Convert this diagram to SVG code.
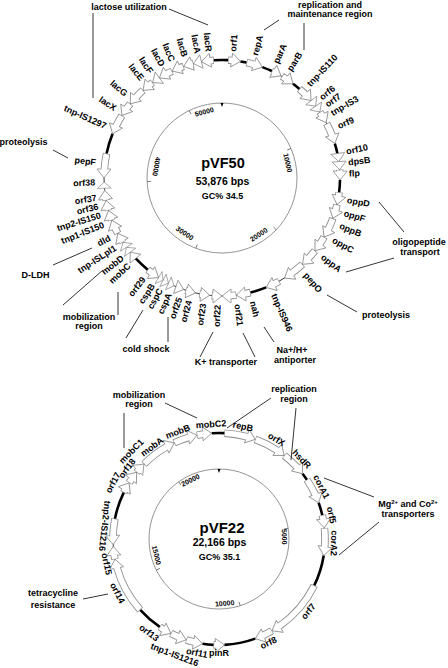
<svg xmlns="http://www.w3.org/2000/svg" width="448" height="668" viewBox="0 0 448 668">
<style>
text{font-family:"Liberation Sans",Arial,sans-serif;font-weight:bold;fill:#000}
.l{font-size:9px}
.e{text-anchor:end}
.m{text-anchor:middle}
.s{font-size:7px;text-anchor:middle}
.b{fill:none;stroke:#8a8a8a;stroke-width:7.5}
.w{fill:none;stroke:#fff;stroke-width:5.8}
.h{fill:#fff;stroke:#8a8a8a;stroke-width:0.8}
.k{fill:none;stroke:#000;stroke-width:2.6}
.ring{fill:none;stroke:#000;stroke-width:0.8}
.in{fill:none;stroke:#666;stroke-width:0.7}
.tk{stroke:#666;stroke-width:0.8}
.c line{stroke:#000;stroke-width:0.8}
</style>
<defs>
<circle id="A" cx="222" cy="178" r="118" pathLength="360" transform="rotate(-90 222 178)"/>
<circle id="B" cx="219" cy="539" r="106" pathLength="360" transform="rotate(-90 219 539)"/>
<polygon id="H" points="0,0 -9,-7 -9,7"/>
</defs>

<!-- ================= pVF50 ================= -->
<g id="pVF50-scale">
<circle class="in" cx="222" cy="178" r="75"/>
<polygon points="220.5,103 223.5,103 222,107" fill="#000"/>
<line class="tk" x1="222" y1="103" x2="222" y2="107" transform="rotate(66.8 222 178)"/>
<line class="tk" x1="222" y1="103" x2="222" y2="107" transform="rotate(133.6 222 178)"/>
<line class="tk" x1="222" y1="103" x2="222" y2="107" transform="rotate(200.4 222 178)"/>
<line class="tk" x1="222" y1="103" x2="222" y2="107" transform="rotate(267.2 222 178)"/>
<line class="tk" x1="222" y1="103" x2="222" y2="107" transform="rotate(334.1 222 178)"/>
<text class="s" transform="rotate(-15 222 178)" x="222" y="112">50000</text>
<text class="s" transform="rotate(77 222 178)" x="222" y="113">10000</text>
<text class="s" transform="rotate(-33 222 178)" x="222" y="248">20000</text>
<text class="s" transform="rotate(34 222 178)" x="222" y="247">30000</text>
<text class="s" transform="rotate(100 222 178)" x="222" y="247">40000</text>
<text x="223" y="167.5" style="font-size:14.5px;text-anchor:middle">pVF50</text>
<text x="222.5" y="184.5" style="font-size:10.5px;text-anchor:middle">53,876 bps</text>
<text x="222.5" y="199" style="font-size:9px;text-anchor:middle">GC% 34.5</text>
</g>

<g id="pVF50-backbone">
<use href="#A" class="ring"/>
<use href="#A" class="k" style="stroke-dasharray:3 353 4 400"/>
<use href="#A" class="k" style="stroke-dasharray:3 400;stroke-dashoffset:-9"/>
<use href="#A" class="k" style="stroke-dasharray:5 400;stroke-dashoffset:-20"/>
<use href="#A" class="k" style="stroke-dasharray:4 400;stroke-dashoffset:-37"/>
<use href="#A" class="k" style="stroke-dasharray:5 400;stroke-dashoffset:-73"/>
<use href="#A" class="k" style="stroke-dasharray:6 400;stroke-dashoffset:-91"/>
<use href="#A" class="k" style="stroke-dasharray:8 400;stroke-dashoffset:-158"/>
<use href="#A" class="k" style="stroke-dasharray:8 400;stroke-dashoffset:-219"/>
<use href="#A" class="k" style="stroke-dasharray:10 400;stroke-dashoffset:-282"/>
</g>

<g id="pVF50-genes">
<g id="lacR"><use href="#A" class="b" style="stroke-dasharray:1.6 400;stroke-dashoffset:-354.4"/><use href="#H" class="h" transform="rotate(350 222 178) translate(222 60) scale(-1 1)"/><use href="#A" class="w" style="stroke-dasharray:1.8 400;stroke-dashoffset:-353.9"/><text class="l e" transform="rotate(84 222 178)" x="95" y="181">lacR</text></g>
<g id="orf1"><use href="#A" class="b" style="stroke-dasharray:1.6 400;stroke-dashoffset:-3"/><use href="#H" class="h" transform="rotate(9 222 178) translate(222 60)"/><use href="#A" class="w" style="stroke-dasharray:1.8 400;stroke-dashoffset:-3.3"/><text class="l" transform="rotate(-85 222 178)" x="349" y="181">orf1</text></g>
<g id="repA"><use href="#A" class="b" style="stroke-dasharray:3.6 400;stroke-dashoffset:-12"/><use href="#H" class="h" transform="rotate(20 222 178) translate(222 60)"/><use href="#A" class="w" style="stroke-dasharray:3.8 400;stroke-dashoffset:-12.3"/><text class="l" transform="rotate(-75 222 178)" x="349" y="181">repA</text></g>
<g id="parA"><use href="#A" class="b" style="stroke-dasharray:0.6 400;stroke-dashoffset:-25"/><use href="#H" class="h" transform="rotate(30 222 178) translate(222 60)"/><use href="#A" class="w" style="stroke-dasharray:0.8 400;stroke-dashoffset:-25.3"/><text class="l" transform="rotate(-65 222 178)" x="349" y="181">parA</text></g>
<g id="parB"><use href="#A" class="b" style="stroke-dasharray:2.1 400;stroke-dashoffset:-30.5"/><use href="#H" class="h" transform="rotate(37 222 178) translate(222 60)"/><use href="#A" class="w" style="stroke-dasharray:2.3 400;stroke-dashoffset:-30.8"/><text class="l" transform="rotate(-58 222 178)" x="349" y="181">parB</text></g>
<g id="tnp-IS110"><use href="#A" class="b" style="stroke-dasharray:3.6 400;stroke-dashoffset:-41"/><use href="#H" class="h" transform="rotate(49 222 178) translate(222 60)"/><use href="#A" class="w" style="stroke-dasharray:3.8 400;stroke-dashoffset:-41.3"/><text class="l" transform="rotate(-47 222 178)" x="349" y="181">tnp-IS110</text></g>
<g id="orf6"><use href="#H" class="h" transform="rotate(52.5 222 178) translate(222 60) scale(0.8 1)"/><text class="l" transform="rotate(-39 222 178)" x="349" y="181">orf6</text></g>
<g id="orf7"><use href="#H" class="h" transform="rotate(56 222 178) translate(222 60) scale(0.8 1)"/><text class="l" transform="rotate(-35 222 178)" x="349" y="181">orf7</text></g>
<g id="tnp-IS3"><use href="#A" class="b" style="stroke-dasharray:1.6 400;stroke-dashoffset:-56"/><use href="#H" class="h" transform="rotate(62 222 178) translate(222 60)"/><use href="#A" class="w" style="stroke-dasharray:1.8 400;stroke-dashoffset:-56.3"/><text class="l" transform="rotate(-30.5 222 178)" x="349" y="181">tnp-IS3</text></g>
<g id="orf9"><use href="#A" class="b" style="stroke-dasharray:6.1 400;stroke-dashoffset:-62.5"/><use href="#H" class="h" transform="rotate(73 222 178) translate(222 60)"/><use href="#A" class="w" style="stroke-dasharray:6.3 400;stroke-dashoffset:-62.8"/><text class="l" transform="rotate(-24 222 178)" x="349" y="181">orf9</text></g>
<g id="orf10"><use href="#H" class="h" transform="rotate(82 222 178) translate(222 60) scale(0.91 1)"/><text class="l" transform="rotate(-12 222 178)" x="349" y="181">orf10</text></g>
<g id="dpsB"><use href="#H" class="h" transform="rotate(86 222 178) translate(222 60) scale(0.91 1)"/><text class="l" transform="rotate(-7 222 178)" x="349" y="181">dpsB</text></g>
<g id="flp"><use href="#A" class="b" style="stroke-dasharray:0.6 400;stroke-dashoffset:-86"/><use href="#H" class="h" transform="rotate(91 222 178) translate(222 60)"/><use href="#A" class="w" style="stroke-dasharray:0.8 400;stroke-dashoffset:-86.3"/><text class="l" transform="rotate(-2 222 178)" x="349" y="181">flp</text></g>
<g id="oppD"><use href="#A" class="b" style="stroke-dasharray:1.6 400;stroke-dashoffset:-97"/><use href="#H" class="h" transform="rotate(103 222 178) translate(222 60)"/><use href="#A" class="w" style="stroke-dasharray:1.8 400;stroke-dashoffset:-97.3"/><text class="l" transform="rotate(10 222 178)" x="349" y="181">oppD</text></g>
<g id="oppF"><use href="#A" class="b" style="stroke-dasharray:2.6 400;stroke-dashoffset:-103"/><use href="#H" class="h" transform="rotate(110 222 178) translate(222 60)"/><use href="#A" class="w" style="stroke-dasharray:2.8 400;stroke-dashoffset:-103.3"/><text class="l" transform="rotate(16 222 178)" x="349" y="181">oppF</text></g>
<g id="oppB"><use href="#A" class="b" style="stroke-dasharray:5.6 400;stroke-dashoffset:-110"/><use href="#H" class="h" transform="rotate(120 222 178) translate(222 60)"/><use href="#A" class="w" style="stroke-dasharray:5.8 400;stroke-dashoffset:-110.3"/><text class="l" transform="rotate(22 222 178)" x="349" y="181">oppB</text></g>
<g id="oppC"><use href="#A" class="b" style="stroke-dasharray:3.6 400;stroke-dashoffset:-120"/><use href="#H" class="h" transform="rotate(128 222 178) translate(222 60)"/><use href="#A" class="w" style="stroke-dasharray:3.8 400;stroke-dashoffset:-120.3"/><text class="l" transform="rotate(29 222 178)" x="349" y="181">oppC</text></g>
<g id="oppA"><use href="#A" class="b" style="stroke-dasharray:4.6 400;stroke-dashoffset:-128"/><use href="#H" class="h" transform="rotate(137 222 178) translate(222 60)"/><use href="#A" class="w" style="stroke-dasharray:4.8 400;stroke-dashoffset:-128.3"/><text class="l" transform="rotate(38 222 178)" x="349" y="181">oppA</text></g>
<g id="pepO"><use href="#A" class="b" style="stroke-dasharray:6.6 400;stroke-dashoffset:-137"/><use href="#H" class="h" transform="rotate(148 222 178) translate(222 60)"/><use href="#A" class="w" style="stroke-dasharray:6.8 400;stroke-dashoffset:-137.3"/><text class="l" transform="rotate(49 222 178)" x="349" y="181">pepO</text></g>
<g id="tnp-IS946"><use href="#A" class="b" style="stroke-dasharray:2.6 400;stroke-dashoffset:-151"/><use href="#H" class="h" transform="rotate(158 222 178) translate(222 60)"/><use href="#A" class="w" style="stroke-dasharray:2.8 400;stroke-dashoffset:-151.3"/><text class="l" transform="rotate(66 222 178)" x="349" y="181">tnp-IS946</text></g>
<g id="nah"><use href="#A" class="b" style="stroke-dasharray:2.6 400;stroke-dashoffset:-166"/><use href="#H" class="h" transform="rotate(173 222 178) translate(222 60)"/><use href="#A" class="w" style="stroke-dasharray:2.8 400;stroke-dashoffset:-166.3"/><text class="l" transform="rotate(76 222 178)" x="349" y="181">nah</text></g>
<g id="orf21"><use href="#A" class="b" style="stroke-dasharray:2.6 400;stroke-dashoffset:-173"/><use href="#H" class="h" transform="rotate(180 222 178) translate(222 60)"/><use href="#A" class="w" style="stroke-dasharray:2.8 400;stroke-dashoffset:-173.3"/><text class="l" transform="rotate(83 222 178)" x="349" y="181">orf21</text></g>
<g id="orf22"><use href="#A" class="b" style="stroke-dasharray:0.6 400;stroke-dashoffset:-184.4"/><use href="#H" class="h" transform="rotate(180 222 178) translate(222 60) scale(-1 1)"/><use href="#A" class="w" style="stroke-dasharray:0.8 400;stroke-dashoffset:-183.9"/><text class="l e" transform="rotate(-88 222 178)" x="95" y="181">orf22</text></g>
<g id="orf23"><use href="#A" class="b" style="stroke-dasharray:0.6 400;stroke-dashoffset:-190.4"/><use href="#H" class="h" transform="rotate(186 222 178) translate(222 60) scale(-1 1)"/><use href="#A" class="w" style="stroke-dasharray:0.8 400;stroke-dashoffset:-189.9"/><text class="l e" transform="rotate(-81.5 222 178)" x="95" y="181">orf23</text></g>
<g id="orf24"><use href="#A" class="b" style="stroke-dasharray:0.6 400;stroke-dashoffset:-197.4"/><use href="#H" class="h" transform="rotate(193 222 178) translate(222 60) scale(-1 1)"/><use href="#A" class="w" style="stroke-dasharray:0.8 400;stroke-dashoffset:-196.9"/><text class="l e" transform="rotate(-75 222 178)" x="95" y="181">orf24</text></g>
<g id="orf25"><use href="#H" class="h" transform="rotate(199 222 178) translate(222 60) scale(-0.91 1)"/><text class="l e" transform="rotate(-70.5 222 178)" x="95" y="181">orf25</text></g>
<g id="cspA"><use href="#H" class="h" transform="rotate(204 222 178) translate(222 60) scale(-0.68 1)"/><text class="l e" transform="rotate(-65.5 222 178)" x="95" y="181">cspA</text></g>
<g id="cspC"><use href="#H" class="h" transform="rotate(207 222 178) translate(222 60) scale(-0.68 1)"/><text class="l e" transform="rotate(-61 222 178)" x="95" y="181">cspC</text></g>
<g id="cspB"><use href="#H" class="h" transform="rotate(210 222 178) translate(222 60) scale(-0.57 1)"/><text class="l e" transform="rotate(-57 222 178)" x="95" y="181">cspB</text></g>
<g id="orf29"><use href="#A" class="b" style="stroke-dasharray:2.1 400;stroke-dashoffset:-216.9"/><use href="#H" class="h" transform="rotate(212.5 222 178) translate(222 60) scale(-1 1)"/><use href="#A" class="w" style="stroke-dasharray:2.3 400;stroke-dashoffset:-216.4"/><text class="l e" transform="rotate(-52 222 178)" x="95" y="181">orf29</text></g>
<g id="mobC"><use href="#H" class="h" transform="rotate(231 222 178) translate(222 60) scale(0.91 1)"/><text class="l e" transform="rotate(-43 222 178)" x="95" y="181">mobC</text></g>
<g id="mobD"><use href="#H" class="h" transform="rotate(234 222 178) translate(222 60) scale(0.68 1)"/><text class="l e" transform="rotate(-38.5 222 178)" x="95" y="181">mobD</text></g>
<g id="tnp-ISLpl1"><use href="#H" class="h" transform="rotate(237 222 178) translate(222 60) scale(0.68 1)"/><text class="l e" transform="rotate(-33 222 178)" x="95" y="181">tnp-ISLpl1</text></g>
<g id="dld"><use href="#A" class="b" style="stroke-dasharray:0.6 400;stroke-dashoffset:-237"/><use href="#H" class="h" transform="rotate(242 222 178) translate(222 60)"/><use href="#A" class="w" style="stroke-dasharray:0.8 400;stroke-dashoffset:-237.3"/><text class="l e" transform="rotate(-28 222 178)" x="95" y="181">dld</text></g>
<g id="tnp1-IS150"><use href="#A" class="b" style="stroke-dasharray:2.6 400;stroke-dashoffset:-242"/><use href="#H" class="h" transform="rotate(249 222 178) translate(222 60)"/><use href="#A" class="w" style="stroke-dasharray:2.8 400;stroke-dashoffset:-242.3"/><text class="l e" transform="rotate(-21.5 222 178)" x="95" y="181">tnp1-IS150</text></g>
<g id="tnp2-IS150"><use href="#A" class="b" style="stroke-dasharray:0.6 400;stroke-dashoffset:-249"/><use href="#H" class="h" transform="rotate(254 222 178) translate(222 60)"/><use href="#A" class="w" style="stroke-dasharray:0.8 400;stroke-dashoffset:-249.3"/><text class="l e" transform="rotate(-17 222 178)" x="95" y="181">tnp2-IS150</text></g>
<g id="orf36"><use href="#A" class="b" style="stroke-dasharray:0.6 400;stroke-dashoffset:-254"/><use href="#H" class="h" transform="rotate(259 222 178) translate(222 60)"/><use href="#A" class="w" style="stroke-dasharray:0.8 400;stroke-dashoffset:-254.3"/><text class="l e" transform="rotate(-13 222 178)" x="95" y="181">orf36</text></g>
<g id="orf37"><use href="#A" class="b" style="stroke-dasharray:0.6 400;stroke-dashoffset:-259"/><use href="#H" class="h" transform="rotate(264 222 178) translate(222 60)"/><use href="#A" class="w" style="stroke-dasharray:0.8 400;stroke-dashoffset:-259.3"/><text class="l e" transform="rotate(-9 222 178)" x="95" y="181">orf37</text></g>
<g id="orf38"><use href="#H" class="h" transform="rotate(268 222 178) translate(222 60) scale(0.68 1)"/><text class="l e" transform="rotate(-2 222 178)" x="95" y="181">orf38</text></g>
<g id="pepF"><use href="#A" class="b" style="stroke-dasharray:7.6 400;stroke-dashoffset:-274.4"/><use href="#H" class="h" transform="rotate(270 222 178) translate(222 60) scale(-1 1)"/><use href="#A" class="w" style="stroke-dasharray:7.8 400;stroke-dashoffset:-273.9"/><text class="l e" transform="rotate(7 222 178)" x="95" y="181">pepF</text></g>
<g id="tnp-IS1297"><use href="#A" class="b" style="stroke-dasharray:5.6 400;stroke-dashoffset:-296.4"/><use href="#H" class="h" transform="rotate(292 222 178) translate(222 60) scale(-1 1)"/><use href="#A" class="w" style="stroke-dasharray:5.8 400;stroke-dashoffset:-295.9"/><text class="l e" transform="rotate(24 222 178)" x="95" y="181">tnp-IS1297</text></g>
<g id="lacX"><use href="#A" class="b" style="stroke-dasharray:2.6 400;stroke-dashoffset:-306.4"/><use href="#H" class="h" transform="rotate(302 222 178) translate(222 60) scale(-1 1)"/><use href="#A" class="w" style="stroke-dasharray:2.8 400;stroke-dashoffset:-305.9"/><text class="l e" transform="rotate(33 222 178)" x="95" y="181">lacX</text></g>
<g id="lacG"><use href="#A" class="b" style="stroke-dasharray:4.6 400;stroke-dashoffset:-313.4"/><use href="#H" class="h" transform="rotate(309 222 178) translate(222 60) scale(-1 1)"/><use href="#A" class="w" style="stroke-dasharray:4.8 400;stroke-dashoffset:-312.9"/><text class="l e" transform="rotate(41 222 178)" x="95" y="181">lacG</text></g>
<g id="lacE"><use href="#A" class="b" style="stroke-dasharray:1.6 400;stroke-dashoffset:-322.4"/><use href="#H" class="h" transform="rotate(318 222 178) translate(222 60) scale(-1 1)"/><use href="#A" class="w" style="stroke-dasharray:1.8 400;stroke-dashoffset:-321.9"/><text class="l e" transform="rotate(51 222 178)" x="95" y="181">lacE</text></g>
<g id="lacF"><use href="#H" class="h" transform="rotate(324 222 178) translate(222 60) scale(-0.91 1)"/><text class="l e" transform="rotate(56 222 178)" x="95" y="181">lacF</text></g>
<g id="lacD"><use href="#A" class="b" style="stroke-dasharray:2.6 400;stroke-dashoffset:-332.4"/><use href="#H" class="h" transform="rotate(328 222 178) translate(222 60) scale(-1 1)"/><use href="#A" class="w" style="stroke-dasharray:2.8 400;stroke-dashoffset:-331.9"/><text class="l e" transform="rotate(62 222 178)" x="95" y="181">lacD</text></g>
<g id="lacC"><use href="#A" class="b" style="stroke-dasharray:1.6 400;stroke-dashoffset:-339.4"/><use href="#H" class="h" transform="rotate(335 222 178) translate(222 60) scale(-1 1)"/><use href="#A" class="w" style="stroke-dasharray:1.8 400;stroke-dashoffset:-338.9"/><text class="l e" transform="rotate(67 222 178)" x="95" y="181">lacC</text></g>
<g id="lacB"><use href="#A" class="b" style="stroke-dasharray:0.6 400;stroke-dashoffset:-345.4"/><use href="#H" class="h" transform="rotate(341 222 178) translate(222 60) scale(-1 1)"/><use href="#A" class="w" style="stroke-dasharray:0.8 400;stroke-dashoffset:-344.9"/><text class="l e" transform="rotate(73 222 178)" x="95" y="181">lacB</text></g>
<g id="lacA"><use href="#H" class="h" transform="rotate(346 222 178) translate(222 60) scale(-0.91 1)"/><text class="l e" transform="rotate(79 222 178)" x="95" y="181">lacA</text></g>
</g>

<g id="pVF50-callouts" class="c">
<g id="c-lac"><text class="l m" x="129" y="10">lactose utilization</text><line x1="169" y1="9" x2="208" y2="25"/><line x1="93" y1="13" x2="93" y2="98"/></g>
<g id="c-rep50"><text class="l m" x="330" y="7.5">replication and</text><text class="l m" x="330" y="16.5">maintenance region</text><line x1="279" y1="20" x2="264" y2="30"/><line x1="304" y1="23" x2="304" y2="50"/></g>
<g id="c-opp"><text class="l m" x="419" y="245">oligopeptide</text><text class="l m" x="420" y="255">transport</text><line x1="379" y1="202" x2="404" y2="232"/><line x1="346" y1="272" x2="394" y2="258"/></g>
<g id="c-prot-r"><text class="l m" x="386" y="318">proteolysis</text><line x1="327" y1="295" x2="357" y2="312"/></g>
<g id="c-nah"><text class="l m" x="292" y="353">Na+/H+</text><text class="l m" x="295" y="363">antiporter</text><line x1="264" y1="327" x2="274" y2="342"/></g>
<g id="c-k"><text class="l m" x="226" y="365">K+ transporter</text><line x1="213" y1="332" x2="200" y2="357"/><line x1="243" y1="333" x2="255" y2="357"/></g>
<g id="c-cold"><text class="l m" x="146" y="352">cold shock</text><line x1="143" y1="310" x2="126" y2="338"/><line x1="168" y1="317" x2="168" y2="342"/></g>
<g id="c-mob50"><text class="l m" x="89" y="320">mobilization</text><text class="l m" x="89" y="328.5">region</text><line x1="63" y1="305" x2="103" y2="270"/><line x1="118" y1="292" x2="118" y2="315"/></g>
<g id="c-ldh"><text class="l m" x="35.5" y="278">D-LDH</text><line x1="53" y1="265" x2="92" y2="248"/></g>
<g id="c-prot-l"><text class="l m" x="23.5" y="145">proteolysis</text><line x1="53" y1="150" x2="68" y2="158"/></g>
</g>

<!-- ================= pVF22 ================= -->
<g id="pVF22-scale">
<circle class="in" cx="219" cy="539" r="70"/>
<polygon points="217.5,469 220.5,469 219,473" fill="#000"/>
<line class="tk" x1="219" y1="469" x2="219" y2="473" transform="rotate(81.2 219 539)"/>
<line class="tk" x1="219" y1="469" x2="219" y2="473" transform="rotate(162.4 219 539)"/>
<line class="tk" x1="219" y1="469" x2="219" y2="473" transform="rotate(243.6 219 539)"/>
<line class="tk" x1="219" y1="469" x2="219" y2="473" transform="rotate(324.8 219 539)"/>
<text class="s" transform="rotate(88 219 539)" x="219" y="476">5000</text>
<text class="s" transform="rotate(-5 219 539)" x="219" y="606">10000</text>
<text class="s" transform="rotate(75.5 219 539)" x="219" y="606">15000</text>
<text class="s" transform="rotate(-26 219 539)" x="219" y="476">20000</text>
<text x="222" y="533" style="font-size:15px;text-anchor:middle">pVF22</text>
<text x="219.5" y="545.5" style="font-size:10.5px;text-anchor:middle">22,166 bps</text>
<text x="219.5" y="560" style="font-size:9px;text-anchor:middle">GC% 35.1</text>
</g>

<g id="pVF22-backbone">
<use href="#B" class="ring"/>
<use href="#B" class="k" style="stroke-dasharray:3 353 4 400"/>
<use href="#B" class="k" style="stroke-dasharray:4 400;stroke-dashoffset:-52"/>
<use href="#B" class="k" style="stroke-dasharray:7 400;stroke-dashoffset:-70"/>
<use href="#B" class="k" style="stroke-dasharray:17 400;stroke-dashoffset:-99"/>
<use href="#B" class="k" style="stroke-dasharray:17 400;stroke-dashoffset:-160"/>
<use href="#B" class="k" style="stroke-dasharray:6 400;stroke-dashoffset:-183"/>
<use href="#B" class="k" style="stroke-dasharray:14 400;stroke-dashoffset:-214"/>
<use href="#B" class="k" style="stroke-dasharray:15 400;stroke-dashoffset:-281"/>
</g>

<g id="pVF22-genes">
<g id="repB"><use href="#B" class="b" style="stroke-dasharray:12.1 400;stroke-dashoffset:-3"/><use href="#H" class="h" transform="rotate(20 219 539) translate(219 433)"/><use href="#B" class="w" style="stroke-dasharray:12.3 400;stroke-dashoffset:-3.3"/><text class="l m" transform="rotate(12 219 539)" x="219" y="427">repB</text></g>
<g id="orfX"><use href="#B" class="b" style="stroke-dasharray:13.1 400;stroke-dashoffset:-20"/><use href="#H" class="h" transform="rotate(38 219 539) translate(219 433)"/><use href="#B" class="w" style="stroke-dasharray:13.3 400;stroke-dashoffset:-20.3"/><text class="l m" transform="rotate(30 219 539)" x="219" y="427">orfX</text></g>
<g id="hsdR"><use href="#B" class="b" style="stroke-dasharray:9.1 400;stroke-dashoffset:-38"/><use href="#H" class="h" transform="rotate(52 219 539) translate(219 433)"/><use href="#B" class="w" style="stroke-dasharray:9.3 400;stroke-dashoffset:-38.3"/><text class="l m" transform="rotate(46 219 539)" x="219" y="427">hsdR</text></g>
<g id="corA1"><use href="#B" class="b" style="stroke-dasharray:9.1 400;stroke-dashoffset:-56"/><use href="#H" class="h" transform="rotate(70 219 539) translate(219 433)"/><use href="#B" class="w" style="stroke-dasharray:9.3 400;stroke-dashoffset:-56.3"/><text class="l m" transform="rotate(63 219 539)" x="219" y="427">corA1</text></g>
<g id="orf5"><use href="#B" class="b" style="stroke-dasharray:2.1 400;stroke-dashoffset:-77"/><use href="#H" class="h" transform="rotate(84 219 539) translate(219 433)"/><use href="#B" class="w" style="stroke-dasharray:2.3 400;stroke-dashoffset:-77.3"/><text class="l m" transform="rotate(78 219 539)" x="219" y="427">orf5</text></g>
<g id="corA2"><use href="#B" class="b" style="stroke-dasharray:10.1 400;stroke-dashoffset:-84"/><use href="#H" class="h" transform="rotate(99 219 539) translate(219 433)"/><use href="#B" class="w" style="stroke-dasharray:10.3 400;stroke-dashoffset:-84.3"/><text class="l m" transform="rotate(92 219 539)" x="219" y="427">corA2</text></g>
<g id="orf7b"><use href="#B" class="b" style="stroke-dasharray:29.1 400;stroke-dashoffset:-116"/><use href="#H" class="h" transform="rotate(150 219 539) translate(219 433)"/><use href="#B" class="w" style="stroke-dasharray:29.3 400;stroke-dashoffset:-116.3"/><text class="l m" transform="rotate(-51 219 539)" x="219" y="657">orf7</text></g>
<g id="orf8"><use href="#B" class="b" style="stroke-dasharray:5.1 400;stroke-dashoffset:-150"/><use href="#H" class="h" transform="rotate(160 219 539) translate(219 433)"/><use href="#B" class="w" style="stroke-dasharray:5.3 400;stroke-dashoffset:-150.3"/><text class="l m" transform="rotate(-25.5 219 539)" x="219" y="657">orf8</text></g>
<g id="pinR"><use href="#B" class="b" style="stroke-dasharray:1.1 400;stroke-dashoffset:-181.9"/><use href="#H" class="h" transform="rotate(177 219 539) translate(219 433) scale(-1 1)"/><use href="#B" class="w" style="stroke-dasharray:1.3 400;stroke-dashoffset:-181.4"/><text class="l m" x="219" y="656">pinR</text></g>
<g id="orf11"><use href="#B" class="b" style="stroke-dasharray:4.1 400;stroke-dashoffset:-193.9"/><use href="#H" class="h" transform="rotate(189 219 539) translate(219 433) scale(-1 1)"/><use href="#B" class="w" style="stroke-dasharray:4.3 400;stroke-dashoffset:-193.4"/><text class="l m" transform="rotate(11 219 539)" x="219" y="658">orf11</text></g>
<g id="tnp1-IS1216"><use href="#B" class="b" style="stroke-dasharray:4.1 400;stroke-dashoffset:-202.9"/><use href="#H" class="h" transform="rotate(198 219 539) translate(219 433) scale(-1 1)"/><use href="#B" class="w" style="stroke-dasharray:4.3 400;stroke-dashoffset:-202.4"/><text class="l m" transform="rotate(21 219 539)" x="219" y="666">tnp1-IS1216</text></g>
<g id="orf13"><use href="#B" class="b" style="stroke-dasharray:2.1 400;stroke-dashoffset:-211.9"/><use href="#H" class="h" transform="rotate(207 219 539) translate(219 433) scale(-1 1)"/><use href="#B" class="w" style="stroke-dasharray:2.3 400;stroke-dashoffset:-211.4"/><text class="l m" transform="rotate(36.7 219 539)" x="219" y="659">orf13</text></g>
<g id="orf14"><use href="#B" class="b" style="stroke-dasharray:26.1 400;stroke-dashoffset:-228"/><use href="#H" class="h" transform="rotate(259 219 539) translate(219 433)"/><use href="#B" class="w" style="stroke-dasharray:26.3 400;stroke-dashoffset:-228.3"/><text class="l m" transform="rotate(62 219 539)" x="219" y="657">orf14</text></g>
<g id="orf15"><use href="#B" class="b" style="stroke-dasharray:2.1 400;stroke-dashoffset:-259"/><use href="#H" class="h" transform="rotate(266 219 539) translate(219 433)"/><use href="#B" class="w" style="stroke-dasharray:2.3 400;stroke-dashoffset:-259.3"/><text class="l m" transform="rotate(77.5 219 539)" x="219" y="657">orf15</text></g>
<g id="tnp2-IS1216"><use href="#B" class="b" style="stroke-dasharray:9.1 400;stroke-dashoffset:-271.9"/><use href="#H" class="h" transform="rotate(267 219 539) translate(219 433) scale(-1 1)"/><use href="#B" class="w" style="stroke-dasharray:9.3 400;stroke-dashoffset:-271.4"/><text class="l m" transform="rotate(96.5 219 539)" x="219" y="657">tnp2-IS1216</text></g>
<g id="orf17"><use href="#B" class="b" style="stroke-dasharray:1.1 400;stroke-dashoffset:-296"/><use href="#H" class="h" transform="rotate(302 219 539) translate(219 433)"/><use href="#B" class="w" style="stroke-dasharray:1.3 400;stroke-dashoffset:-296.3"/><text class="l m" transform="rotate(-62 219 539)" x="219" y="422">orf17</text></g>
<g id="orf18"><use href="#B" class="b" style="stroke-dasharray:2.1 400;stroke-dashoffset:-302"/><use href="#H" class="h" transform="rotate(309 219 539) translate(219 433)"/><use href="#B" class="w" style="stroke-dasharray:2.3 400;stroke-dashoffset:-302.3"/><text class="l m" transform="rotate(-52.5 219 539)" x="219" y="426">orf18</text></g>
<g id="mobC1"><use href="#B" class="b" style="stroke-dasharray:1.1 400;stroke-dashoffset:-309"/><use href="#H" class="h" transform="rotate(315 219 539) translate(219 433)"/><use href="#B" class="w" style="stroke-dasharray:1.3 400;stroke-dashoffset:-309.3"/><text class="l m" transform="rotate(-45 219 539)" x="219" y="418">mobC1</text></g>
<g id="mobA"><use href="#B" class="b" style="stroke-dasharray:15.1 400;stroke-dashoffset:-315"/><use href="#H" class="h" transform="rotate(335 219 539) translate(219 433)"/><use href="#B" class="w" style="stroke-dasharray:15.3 400;stroke-dashoffset:-315.3"/><text class="l m" transform="rotate(-36 219 539)" x="219" y="428">mobA</text></g>
<g id="mobB"><use href="#B" class="b" style="stroke-dasharray:8.1 400;stroke-dashoffset:-335"/><use href="#H" class="h" transform="rotate(348 219 539) translate(219 433)"/><use href="#B" class="w" style="stroke-dasharray:8.3 400;stroke-dashoffset:-335.3"/><text class="l m" transform="rotate(-21 219 539)" x="219" y="427">mobB</text></g>
<g id="mobC2"><use href="#B" class="b" style="stroke-dasharray:3.1 400;stroke-dashoffset:-348"/><use href="#H" class="h" transform="rotate(356 219 539) translate(219 433)"/><use href="#B" class="w" style="stroke-dasharray:3.3 400;stroke-dashoffset:-348.3"/><text class="l m" transform="rotate(-4 219 539)" x="219" y="427">mobC2</text></g>
</g>

<g id="pVF22-callouts" class="c">
<g id="c-mob22"><text class="l m" x="139" y="398">mobilization</text><text class="l m" x="139" y="406.5">region</text><line x1="165" y1="403" x2="197" y2="418"/><line x1="124" y1="413" x2="124" y2="448"/></g>
<g id="c-rep22"><text class="l m" x="294" y="391.5">replication</text><text class="l m" x="294" y="401.5">region</text><line x1="271" y1="398" x2="227" y2="428"/><line x1="296" y1="408" x2="291" y2="460"/></g>
<g id="c-mg"><text class="l m" x="408" y="506.5">Mg<tspan dy="-3" style="font-size:6px">2+</tspan><tspan dy="3"> and Co</tspan><tspan dy="-3" style="font-size:6px">2+</tspan></text><text class="l m" x="408" y="516.5">transporters</text><line x1="324" y1="478" x2="374" y2="497"/><line x1="379" y1="522" x2="339" y2="555"/></g>
<g id="c-tet"><text class="l m" x="53" y="595.5">tetracycline</text><text class="l m" x="53" y="608">resistance</text><line x1="83" y1="599" x2="108" y2="594"/></g>
</g>
</svg>
